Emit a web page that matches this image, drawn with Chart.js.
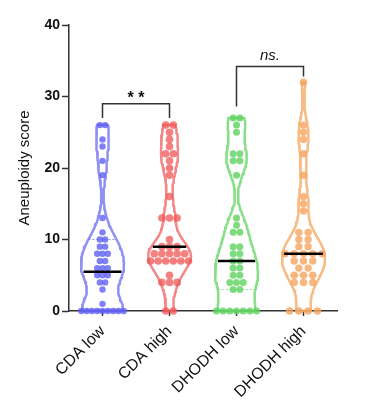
<!DOCTYPE html>
<html>
<head>
<meta charset="utf-8">
<script src="https://cdn.jsdelivr.net/npm/chart.js@4/dist/chart.umd.min.js"></script>
<style>
    html, body { margin: 0; padding: 0; background: #fff; }
    #wrap { width: 367px; height: 409px; }
</style>
</head>
<body>
<div id="wrap"><canvas id="violinChart" width="367" height="409"></canvas></div>
<script>

const categories = ["CDA low", "CDA high", "DHODH low", "DHODH high"];

const cdaLow = [0, 0, 0, 0, 0, 0, 0, 0, 0, 1, 3, 4, 4, 5, 5, 5, 6, 6, 6, 7, 7,
    8, 8, 8, 9, 9, 10, 10, 11, 13, 19, 21, 23, 24, 26, 26];

const cdaHigh = [0, 0, 4, 4, 4, 5, 7, 7, 7, 7, 7, 7, 8, 8, 8, 8, 8, 9, 9, 9,
    10, 13, 13, 13, 16, 19, 20, 21, 22, 22, 23, 24, 25, 26, 26];

const dhodhLow = [0, 0, 0, 0, 0, 0, 0, 3, 3, 4, 4, 4, 5, 5, 6, 6, 7, 7, 8, 8,
    9, 9, 11, 11, 12, 13, 19, 21, 21, 22, 22, 25, 26, 27, 27];

const dhodhHigh = [0, 0, 0, 0, 4, 4, 4, 5, 5, 5, 6, 6, 7, 7, 7, 8, 8, 8, 8, 8,
    9, 9, 10, 10, 11, 11, 14, 15, 16, 19, 22, 24, 25, 26, 32];

const medians = [5.5, 9, 7, 8];

const yTicks = [0, 10, 20, 30, 40];

// significance brackets (y in score units)
const sigLabels = ["* *", "ns."];
const sigFrom = [0, 2];
const sigTo = [1, 3];
const sigTop = [29, 34.2];
const sigFootLeft = [27, 28.6];
const sigFootRight = [27, 32.8];

const groups = [cdaLow, cdaHigh, dhodhLow, dhodhHigh];

const lineColors = [
    "rgba(105,105,240,0.75)",
    "rgba(240,95,95,0.75)",
    "rgba(105,215,105,0.8)",
    "rgba(245,170,100,0.8)"
];
const dotColors = [
    "rgba(95,95,245,0.8)",
    "rgba(240,85,85,0.75)",
    "rgba(95,210,95,0.8)",
    "rgba(245,165,95,0.8)"
];
const dotGap = [5.3, 7.6, 6.7, 9.3];
const dotRadius = [3.2, 3.8, 3.5, 3.7];

const PX_PER_UNIT = 67;
const HALF_MAX = 21.5 / PX_PER_UNIT;
const BANDWIDTH = 1.8;


function density(vals, y) {
    let s = 0;
    vals.forEach(v => {
        const u = (y - v) / BANDWIDTH;
        s += Math.exp(-0.5 * u * u);
    });
    return s;
}

function violinOutline(vals, i) {
    const lo = Math.min(...vals);
    const hi = Math.max(...vals);
    const ys = [];
    for (let k = 0; k <= 90; k++) ys.push(lo + (hi - lo) * k / 90);
    const ds = ys.map(y => density(vals, y));
    const dMax = Math.max(...ds);
    const right = ys.map((y, k) => ({ x: i + ds[k] / dMax * HALF_MAX, y: y }));
    const left = ys.map((y, k) => ({ x: i - ds[k] / dMax * HALF_MAX, y: y })).reverse();
    return [...right, ...left, right[0]];
}

function halfWidthAt(vals, y) {
    const lo = Math.min(...vals);
    const hi = Math.max(...vals);
    let dMax = 0;
    for (let k = 0; k <= 90; k++) dMax = Math.max(dMax, density(vals, lo + (hi - lo) * k / 90));
    return density(vals, y) / dMax * HALF_MAX;
}

function swarm(vals, i) {
    const counts = {};
    vals.forEach(v => counts[v] = (counts[v] || 0) + 1);
    const pts = [];
    Object.keys(counts).forEach(k => {
        const n = counts[k];
        for (let j = 0; j < n; j++) {
            pts.push({ x: i + (j - (n - 1) / 2) * dotGap[i] / PX_PER_UNIT, y: +k });
        }
    });
    return pts;
}

function quantile(vals, q) {
    const s = [...vals].sort((a, b) => a - b);
    const pos = (s.length + 1) * q - 1;
    const lo = Math.floor(pos);
    const f = pos - lo;
    return s[lo] + (s[Math.min(lo + 1, s.length - 1)] - s[lo]) * f;
}


const datasets = [];

groups.forEach((vals, i) => {

    datasets.push({
        data: violinOutline(vals, i),
        showLine: true,
        pointRadius: 0,
        borderColor: lineColors[i],
        borderWidth: 2.5,
        borderJoinStyle: "round",
        fill: false,
        clip: false,
        order: 3
    });

    [0.25, 0.75].forEach(q => {
        const qv = quantile(vals, q);
        const w = halfWidthAt(vals, qv);
        datasets.push({
            data: [{ x: i - w, y: qv }, { x: i + w, y: qv }],
            showLine: true,
            pointRadius: 0,
            borderColor: lineColors[i],
            borderWidth: 1,
            borderDash: [2, 2],
            clip: false,
            order: 4
        });
    });

    datasets.push({
        data: swarm(vals, i),
        pointRadius: dotRadius[i],
        pointBackgroundColor: dotColors[i],
        pointBorderWidth: 0,
        clip: false,
        order: 2
    });

    const mw = halfWidthAt(vals, medians[i]) * 0.92;
    datasets.push({
        data: [{ x: i - mw, y: medians[i] }, { x: i + mw, y: medians[i] }],
        showLine: true,
        pointRadius: 0,
        borderColor: "#000",
        borderWidth: 2.5,
        clip: false,
        order: 1
    });
});

sigLabels.forEach((lab, k) => {
    datasets.push({
        data: [
            { x: sigFrom[k], y: sigFootLeft[k] },
            { x: sigFrom[k], y: sigTop[k] },
            { x: sigTo[k], y: sigTop[k] },
            { x: sigTo[k], y: sigFootRight[k] }
        ],
        showLine: true,
        pointRadius: 0,
        borderColor: "#333",
        borderWidth: 1.5,
        clip: false,
        order: 0
    });
});


const sigText = {
    id: "sigText",
    afterDatasetsDraw(chart) {
        const { ctx, scales: { x, y } } = chart;
        ctx.save();
        ctx.fillStyle = "#111";
        ctx.textAlign = "center";
        ctx.textBaseline = "alphabetic";
        sigLabels.forEach((lab, k) => {
            const cx = x.getPixelForValue((sigFrom[k] + sigTo[k]) / 2);
            const cy = y.getPixelForValue(sigTop[k]);
            if (k === 0) {
                ctx.font = "bold 16px 'Liberation Sans', Arial, sans-serif";
                ctx.fillText(lab, cx, cy - 1);
            } else {
                ctx.font = "italic 15px 'Liberation Sans', Arial, sans-serif";
                ctx.fillText(lab, cx, cy - 6);
            }
        });
        ctx.restore();
    }
};


new Chart(document.getElementById("violinChart"), {

    type: "scatter",

    data: { datasets: datasets },

    plugins: [sigText],

    options: {

        responsive: false,
        animation: false,
        devicePixelRatio: 1,

        layout: {
            padding: { left: 0, top: 25, right: 30, bottom: 0 }
        },

        plugins: {
            legend: { display: false },
            tooltip: { enabled: false }
        },

        scales: {

            x: {
                type: "linear",
                min: -0.5,
                max: 3.5,
                afterBuildTicks: s => {
                    s.ticks = categories.map((c, i) => ({ value: i }));
                },
                afterFit: s => {
                    s.height = 98;
                },
                ticks: {
                    callback: v => categories[v],
                    minRotation: 45,
                    maxRotation: 45,
                    padding: 6,
                    color: "#111",
                    font: { family: "'Liberation Sans', Arial, sans-serif", size: 16 }
                },
                grid: {
                    drawOnChartArea: false,
                    tickLength: 5,
                    tickWidth: 1.5,
                    tickColor: "#333"
                },
                border: { color: "#333", width: 1.5 }
            },

            y: {
                min: 0,
                max: 40,
                afterBuildTicks: s => {
                    s.ticks = yTicks.map(v => ({ value: v }));
                },
                afterFit: s => {
                    s.width = 69;
                },
                title: {
                    display: true,
                    text: "Aneuploidy score",
                    color: "#111",
                    padding: { top: 16, bottom: 0 },
                    font: { family: "'Liberation Sans', Arial, sans-serif", size: 15 }
                },
                ticks: {
                    padding: 2,
                    color: "#111",
                    font: { family: "'Liberation Sans', Arial, sans-serif", size: 14, weight: "bold" }
                },
                grid: {
                    drawOnChartArea: false,
                    tickLength: 7,
                    tickWidth: 1.5,
                    tickColor: "#333"
                },
                border: { color: "#333", width: 1.5 }
            }
        }
    }
});
</script>
</body>
</html>
